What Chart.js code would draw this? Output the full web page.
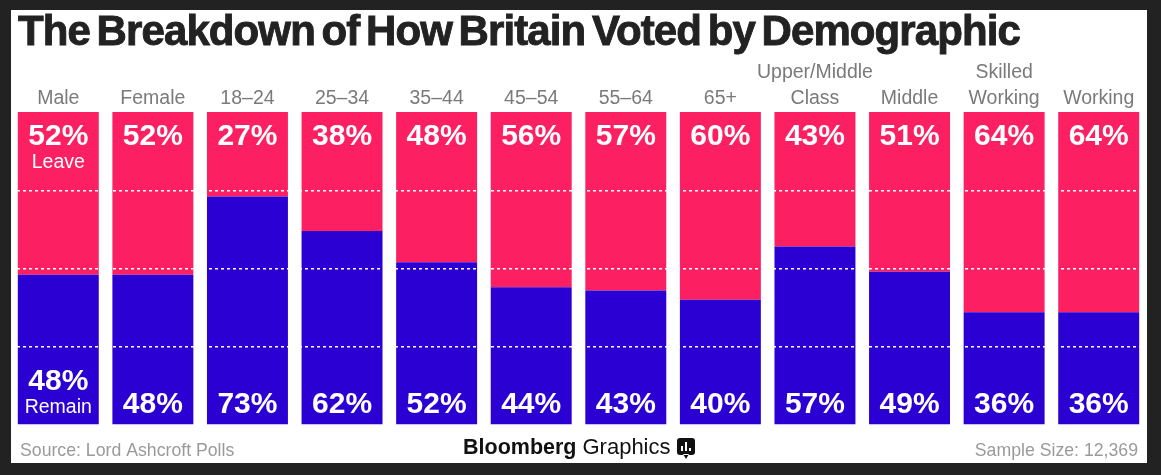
<!DOCTYPE html>
<html>
<head>
<meta charset="utf-8">
<title>The Breakdown of How Britain Voted by Demographic</title>
<script src="https://cdn.jsdelivr.net/npm/chart.js@4.4.1/dist/chart.umd.min.js"></script>
<style>
  html, body { margin: 0; padding: 0; background: #222; }
  #wrap { width: 1161px; height: 475px; position: relative; }
</style>
</head>
<body>
<div id="wrap"><canvas id="brexitChart"></canvas></div>
<script>
const categories = ['Male', 'Female', '18–24', '25–34', '35–44', '45–54', '55–64', '65+',
  ['Upper/Middle', 'Class'], 'Middle', ['Skilled', 'Working'], 'Working'];
const remain = [48, 48, 73, 62, 52, 44, 43, 40, 57, 49, 36, 36];
const leave = [52, 52, 27, 38, 48, 56, 57, 60, 43, 51, 64, 64];
const gridTicks = [25, 50, 75];

const titleText = 'The Breakdown of How Britain Voted by Demographic';
const sourceText = 'Source: Lord Ashcroft Polls';
const sampleText = 'Sample Size: 12,369';

const FONT = "'Liberation Sans', Arial, sans-serif";
const PINK = '#fc1f61';
const BLUE = '#2a00d3';

// dark frame + white card
const framePlugin = {
    id: 'frame',
    beforeDraw(chart) {
        const ctx = chart.ctx;
        ctx.save();
        ctx.fillStyle = '#222';
        ctx.fillRect(0, 0, chart.width, chart.height);
        ctx.fillStyle = '#fff';
        ctx.fillRect(11, 10, 1136, 453);
        ctx.restore();
    }
};

// title, in-bar labels and footer
const textPlugin = {
    id: 'texts',
    afterDraw(chart) {
        const ctx = chart.ctx;
        ctx.save();

        // heavy, tight title squeezed to the original width
        ctx.font = `bold 42px ${FONT}`;
        ctx.fillStyle = '#222';
        ctx.strokeStyle = '#222';
        ctx.lineWidth = 0.9;
        ctx.textAlign = 'left';
        ctx.textBaseline = 'alphabetic';
        const w0 = ctx.measureText(titleText).width;
        const ls = -0.9;
        const spaces = titleText.split(' ').length - 1;
        const ws = (1002 - w0 - ls * titleText.length) / spaces;
        ctx.letterSpacing = ls + 'px';
        ctx.wordSpacing = ws.toFixed(2) + 'px';
        ctx.fillText(titleText, 18, 45);
        ctx.strokeText(titleText, 18, 45);
        ctx.letterSpacing = '0px';
        ctx.wordSpacing = '0px';

        // percent labels
        ctx.fillStyle = '#fff';
        ctx.textAlign = 'center';
        const remainMeta = chart.getDatasetMeta(0);
        const leaveMeta = chart.getDatasetMeta(1);
        leaveMeta.data.forEach((bar, i) => {
            ctx.font = `bold 30px ${FONT}`;
            ctx.fillText(leave[i] + '%', bar.x, bar.y + 33);
            if (i === 0) {
                ctx.font = `19.5px ${FONT}`;
                ctx.fillText('Leave', bar.x, bar.y + 56);
            }
        });
        remainMeta.data.forEach((bar, i) => {
            ctx.font = `bold 30px ${FONT}`;
            if (i === 0) {
                ctx.fillText(remain[i] + '%', bar.x, bar.base - 34);
                ctx.font = `19.5px ${FONT}`;
                ctx.fillText('Remain', bar.x, bar.base - 11);
            } else {
                ctx.fillText(remain[i] + '%', bar.x, bar.base - 11);
            }
        });

        // footer
        ctx.font = `17.7px ${FONT}`;
        ctx.fillStyle = '#9a9a9a';
        ctx.textAlign = 'left';
        ctx.fillText(sourceText, 20, 456);
        ctx.textAlign = 'right';
        ctx.fillText(sampleText, 1138, 456);

        ctx.textAlign = 'left';
        ctx.fillStyle = '#111';
        ctx.font = `bold 21.5px ${FONT}`;
        ctx.fillText('Bloomberg', 463, 454);
        const bw = ctx.measureText('Bloomberg').width;
        ctx.font = `22px ${FONT}`;
        ctx.fillText('Graphics', 463 + bw + 6, 454);

        // little logo mark
        ctx.beginPath();
        ctx.roundRect(677, 438, 18, 17, 3);
        ctx.moveTo(683, 454);
        ctx.lineTo(686, 459);
        ctx.lineTo(689, 454);
        ctx.fill();
        ctx.fillStyle = '#fff';
        ctx.fillRect(681, 446, 2, 5);
        ctx.fillRect(685, 442, 2, 9);
        ctx.fillRect(689, 448, 2, 3);

        ctx.restore();
    }
};

const ctx = document.getElementById('brexitChart').getContext('2d');
new Chart(ctx, {
    type: 'bar',
    data: {
        labels: categories,
        datasets: [
            { label: 'Remain', data: remain, backgroundColor: BLUE, borderWidth: 0 },
            { label: 'Leave', data: leave, backgroundColor: PINK, borderWidth: 0 }
        ]
    },
    options: {
        responsive: true,
        maintainAspectRatio: false,
        animation: false,
        layout: { padding: { top: 52, left: 11, right: 15, bottom: 50 } },
        datasets: { bar: { categoryPercentage: 1, barPercentage: 0.856 } },
        scales: {
            x: {
                stacked: true,
                position: 'top',
                grid: { display: false, drawTicks: false },
                border: { display: false },
                ticks: {
                    color: '#7a7a7a',
                    padding: 0,
                    maxRotation: 0,
                    autoSkip: false,
                    font: { family: FONT, size: 19.5, lineHeight: 1.333 }
                },
                afterFit: s => { s.height = 60; }
            },
            y: {
                stacked: true,
                min: 0,
                max: 100,
                ticks: { display: false, stepSize: 25 },
                border: { display: false, dash: [3, 3] },
                grid: {
                    z: 1,
                    drawTicks: false,
                    lineWidth: 1.5,
                    color: c => (c.tick && gridTicks.includes(c.tick.value)) ? '#ffffff' : 'rgba(0,0,0,0)'
                }
            }
        },
        plugins: {
            legend: { display: false },
            tooltip: { enabled: false }
        }
    },
    plugins: [framePlugin, textPlugin]
});
</script>
</body>
</html>
